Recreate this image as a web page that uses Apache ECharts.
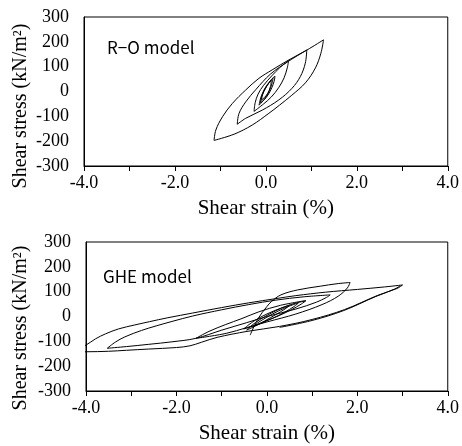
<!DOCTYPE html>
<html>
	<head>
		<meta charset="UTF-8">
		<script src="https://cdn.jsdelivr.net/npm/echarts@6/dist/echarts.min.js"></script>
		<style>
			html, body { margin: 0; padding: 0; background: #fff; }
		</style>
	</head>
	<body>
		<div id="chartDiv" style="width: 462px; height: 446px;"></div>
		<script type="text/javascript">
			// axis ticks
			var xTicks = [-4, -3, -2, -1, 0, 1, 2, 3, 4];
			var yTicks = [-300, -200, -100, 0, 100, 200, 300];

			// R-O model : [strain %, stress kN/m2]
			var roLoop1Load = [[-1.14, -197], [-1.10, -155], [-0.955, -102], [-0.736, -48], [-0.444, 6], [-0.153, 53], [0.138, 87], [0.503, 127], [0.903, 167], [1.268, 208]];
			var roLoop1Unload = [[1.268, 208], [1.21, 154], [1.09, 95], [0.87, 35], [0.57, -15], [0.30, -55], [0.05, -90], [-0.30, -135], [-0.70, -172], [-1.14, -197]];
			var roLoop2Load = [[-0.63, -132], [-0.59, -88], [-0.44, -41], [-0.22, 8], [0.10, 70], [0.50, 122], [0.90, 167]];
			var roLoop2Unload = [[0.90, 167], [0.867, 114], [0.758, 60], [0.575, 13], [0.284, -34], [-0.08, -75], [-0.444, -108], [-0.63, -132]];
			var roLoop3Load = [[-0.26, -80], [-0.235, -45], [-0.17, -10], [-0.05, 25], [0.14, 65], [0.30, 95], [0.50, 125]];
			var roLoop3Unload = [[0.50, 125], [0.47, 95], [0.40, 55], [0.28, 15], [0.12, -22], [-0.05, -50], [-0.26, -80]];
			var roLoop4Load = [[-0.12, -45], [-0.10, -25], [-0.05, 0], [0.03, 25], [0.12, 48], [0.20, 62]];
			var roLoop4Unload = [[0.20, 62], [0.18, 40], [0.13, 15], [0.06, -10], [-0.03, -32], [-0.12, -45]];
			var roLoop5Load = [[-0.10, -35], [-0.07, -12], [-0.01, 12], [0.07, 35], [0.16, 55]];
			var roLoop5Unload = [[0.16, 55], [0.13, 30], [0.08, 5], [0.00, -18], [-0.10, -35]];
			var roLoop6Load = [[-0.15, -55], [-0.12, -30], [-0.07, -5], [0.02, 25], [0.12, 45]];
			var roLoop6Unload = [[0.12, 45], [0.10, 20], [0.04, -10], [-0.05, -35], [-0.15, -55]];

			// GHE model
			var gheLoop1Load = [[-4.4, -142], [-4.2, -130], [-4.0, -115], [-3.79, -90], [-3.57, -70], [-3.28, -50], [-2.92, -34], [-2.6, -21], [-2.19, -5], [-1.64, 14], [-1.0, 36], [-0.4, 55], [0.2, 72], [0.64, 84], [1.3, 98], [2.0, 109], [2.6, 119], [3.0, 127]];
			var gheLoop1Unload = [[3.0, 127], [2.88, 113], [2.45, 85], [1.72, 28], [1.0, -12], [0.28, -40], [-0.44, -60], [-1.10, -84], [-1.45, -104], [-1.7, -118], [-2.0, -125], [-2.61, -131], [-3.1, -136], [-3.5, -140], [-4.0, -142], [-4.4, -142]];
			var gheLoop1Reload = [[0.28, -44], [1.0, -16], [1.7, 24], [2.4, 80], [2.82, 110], [2.95, 124]];
			var gheLoop2Load = [[-3.53, -128], [-3.35, -103], [-3.14, -82], [-2.77, -56], [-2.45, -38], [-2.1, -20], [-1.64, 2], [-1.0, 27], [-0.4, 48], [0.2, 66], [0.8, 79], [1.40, 87]];
			var gheLoop2Unload = [[1.40, 87], [1.32, 77], [1.1, 58], [0.64, 30], [0.0, 0], [-0.45, -25], [-1.0, -55], [-1.57, -88], [-2.1, -102], [-2.61, -112], [-3.1, -121], [-3.53, -128]];
			var gheLoop3Load = [[-0.37, -75], [-0.2, -10], [0.0, 40], [0.10, 60], [0.31, 87], [0.68, 107], [1.18, 122], [1.55, 132], [1.84, 137]];
			var gheLoop3Unload = [[1.84, 137], [1.78, 115], [1.58, 82], [1.22, 48], [0.64, 10], [0.0, -22], [-0.45, -45], [-0.9, -68], [-1.57, -88]];
			var gheLoop4Load = [[-1.57, -88], [-1.28, -60], [-0.92, -33], [-0.55, -8], [-0.19, 18], [0.3, 45], [0.86, 64]];
			var gheLoop5Load = [[-0.51, -50], [-0.42, -36], [-0.25, -14], [0.0, 10], [0.3, 33], [0.6, 52], [0.86, 63]];
			var gheLoop5Unload = [[0.86, 63], [0.76, 50], [0.55, 28], [0.25, 2], [-0.05, -20], [-0.3, -38], [-0.51, -50]];
			var gheLoop6Load = [[-0.3, -40], [-0.2, -25], [0.0, -3], [0.25, 22], [0.5, 42], [0.7, 55]];
			var gheLoop6Unload = [[0.7, 55], [0.6, 40], [0.4, 18], [0.15, -5], [-0.1, -25], [-0.3, -40]];
			var gheLoop7Load = [[-0.45, -55], [-0.35, -38], [-0.15, -12], [0.1, 14], [0.3, 32], [0.5, 45]];
			var gheLoop7Unload = [[0.5, 45], [0.4, 30], [0.2, 8], [-0.05, -18], [-0.25, -38], [-0.45, -55]];

			var roBranches = [roLoop1Load, roLoop1Unload, roLoop2Load, roLoop2Unload, roLoop3Load, roLoop3Unload,
				roLoop4Load, roLoop4Unload, roLoop5Load, roLoop5Unload, roLoop6Load, roLoop6Unload];
			var gheBranches = [gheLoop1Load, gheLoop1Unload, gheLoop1Reload, gheLoop2Load, gheLoop2Unload,
				gheLoop3Load, gheLoop3Unload, gheLoop4Load, gheLoop5Load, gheLoop5Unload,
				gheLoop6Load, gheLoop6Unload, gheLoop7Load, gheLoop7Unload];

			var serif = 'Liberation Serif';
			var yTitle = 'Shear stress (kN/m\u00B2)';

			function makeXAxis(idx) {
				return {
					gridIndex: idx,
					type: 'value',
					min: xTicks[0],
					max: xTicks[xTicks.length - 1],
					interval: 1,
					name: 'Shear strain (%)',
					nameLocation: 'middle',
					nameGap: 32,
					nameTextStyle: { color: '#000', fontFamily: serif, fontSize: 21 },
					axisLine: { onZero: false, lineStyle: { color: '#000', width: 1 } },
					axisTick: { show: true, inside: false, length: 5, lineStyle: { color: '#000' } },
					axisLabel: {
						margin: 8,
						color: '#000',
						fontFamily: serif,
						fontSize: 18,
						formatter: function(v) {
							return (v % 2 === 0) ? v.toFixed(1) : '';
						}
					},
					splitLine: { show: false }
				};
			}

			function makeYAxis(idx) {
				return {
					gridIndex: idx,
					type: 'value',
					min: yTicks[0],
					max: yTicks[yTicks.length - 1],
					interval: 100,
					axisLine: { onZero: false, lineStyle: { color: '#000', width: 1 } },
					axisTick: { show: false },
					axisLabel: { margin: 15, color: '#000', fontFamily: serif, fontSize: 18 },
					splitLine: { show: false }
				};
			}

			function makeSeries(branches, idx) {
				var out = [];
				for (var i = 0; i < branches.length; i++) {
					out.push({
						type: 'line',
						xAxisIndex: idx,
						yAxisIndex: idx,
						data: branches[i],
						smooth: 0.35,
						symbol: 'none',
						clip: true,
						lineStyle: { color: '#000', width: 1 }
					});
				}
				return out;
			}

			function yName(cy) {
				return {
					type: 'text',
					x: 21,
					y: cy,
					rotation: Math.PI / 2,
					style: {
						text: yTitle,
						fill: '#000',
						font: '20px "Liberation Serif"',
						textAlign: 'center',
						textVerticalAlign: 'middle'
					}
				};
			}

			var chart = echarts.init(document.getElementById('chartDiv'), null, { renderer: 'canvas' });
			var option = {
				animation: false,
				backgroundColor: '#fff',
				grid: [
					{ left: 84, top: 17, width: 366, height: 149, show: true, borderColor: '#000', borderWidth: 1 },
					{ left: 86, top: 242, width: 369, height: 149, show: true, borderColor: '#000', borderWidth: 1 }
				],
				title: [
					{ text: 'R\u2212O model', left: 102, top: 34, textStyle: { fontFamily: 'Noto Sans CJK JP', fontWeight: 'normal', fontSize: 17, color: '#000' } },
					{ text: 'GHE model', left: 98, top: 263, textStyle: { fontFamily: 'Noto Sans CJK JP', fontWeight: 'normal', fontSize: 17, color: '#000' } }
				],
				graphic: [yName(106), yName(328)],
				xAxis: [makeXAxis(0), makeXAxis(1)],
				yAxis: [makeYAxis(0), makeYAxis(1)],
				series: makeSeries(roBranches, 0).concat(makeSeries(gheBranches, 1))
			};
			chart.setOption(option);
		</script>
	</body>
</html>
